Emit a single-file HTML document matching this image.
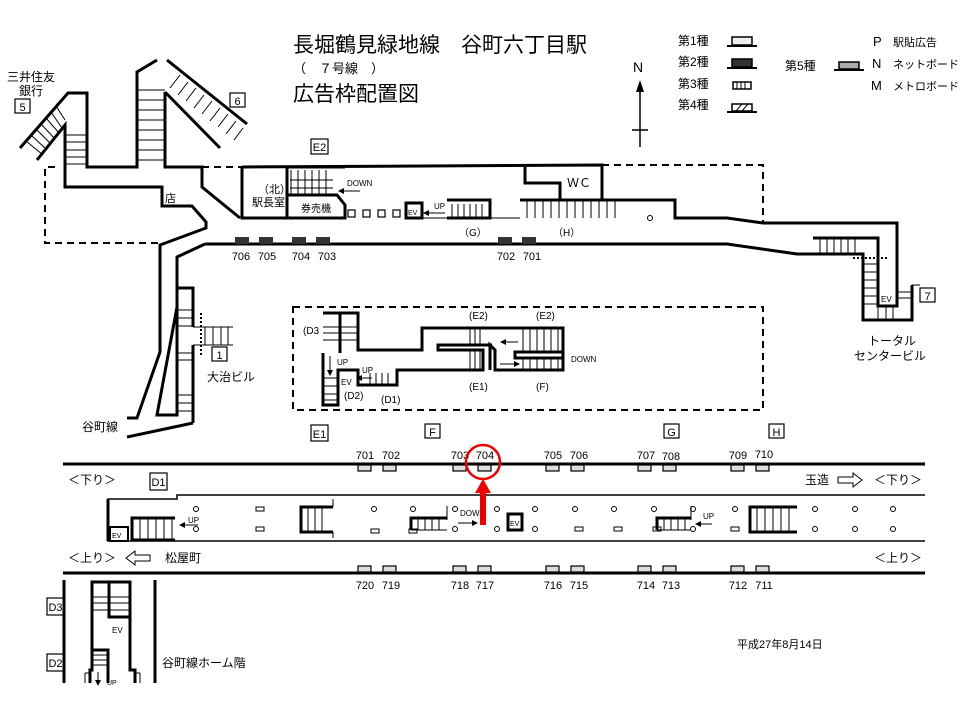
<!DOCTYPE html>
<html><head><meta charset="utf-8"><style>
body{margin:0;background:#fff}
svg{display:block}
text{font-family:"Liberation Sans","Noto Sans CJK JP",sans-serif;fill:#000}
</style></head><body>
<svg width="960" height="720" viewBox="0 0 960 720" xmlns="http://www.w3.org/2000/svg">
<rect width="960" height="720" fill="#fff"/>
<!-- Title -->
<text x="293" y="52" font-size="21">長堀鶴見緑地線　谷町六丁目駅</text>
<text x="293" y="73" font-size="13">（　７号線　）</text>
<text x="293" y="101" font-size="21">広告枠配置図</text>
<!-- north -->
<text x="633" y="72" font-size="14">N</text>
<line x1="640" y1="82" x2="640" y2="147" stroke="#000" stroke-width="1.5"/>
<path d="M636,92 L640,80 L644,92 Z" fill="#000"/>
<line x1="632" y1="130" x2="648" y2="130" stroke="#000" stroke-width="1.5"/>
<!-- legend -->
<g font-size="12">
<text x="678" y="45">第1種</text><text x="678" y="66">第2種</text><text x="678" y="88">第3種</text><text x="678" y="109">第4種</text>
<text x="785" y="70">第5種</text>
<text x="873" y="46" font-size="13">P</text><text x="893" y="46" font-size="11">駅貼広告</text>
<text x="872" y="68" font-size="13">N</text><text x="893" y="68" font-size="11">ネットボード</text>
<text x="871" y="90" font-size="13">M</text><text x="893" y="90" font-size="11">メトロボード</text>
</g>
<g stroke="#000">
<rect x="732" y="37" width="20" height="8" fill="#eee" stroke-width="1.5"/><line x1="727" y1="46" x2="757" y2="46" stroke-width="2"/>
<rect x="732" y="59" width="20" height="8" fill="#333" stroke-width="1.5"/><line x1="727" y1="68" x2="757" y2="68" stroke-width="2"/>
<rect x="733" y="82" width="18" height="7" fill="#fff" stroke-width="1.5"/>
<line x1="737" y1="82" x2="737" y2="89"/><line x1="741" y1="82" x2="741" y2="89"/><line x1="745" y1="82" x2="745" y2="89"/>
<rect x="732" y="104" width="20" height="7" fill="#fff" stroke-width="1.5"/>
<line x1="736" y1="111" x2="742" y2="104"/><line x1="742" y1="111" x2="748" y2="104"/>
<line x1="727" y1="112" x2="757" y2="112" stroke-width="2"/>
<rect x="839" y="62" width="20" height="7" fill="#aaa" stroke-width="1.5"/><line x1="834" y1="70" x2="864" y2="70" stroke-width="2"/>
</g>
<!-- top-left labels -->
<g font-size="12">
<text x="7" y="81">三井住友</text><text x="19" y="95">銀行</text>
</g>
<g fill="#fff" stroke="#000" stroke-width="1.2">
<rect x="15" y="99" width="15" height="14"/><rect x="230" y="93" width="15" height="14"/>
<rect x="311" y="139" width="17" height="15"/><rect x="920" y="288" width="15" height="14"/>
<rect x="212" y="347" width="15" height="14"/><rect x="311" y="425" width="17" height="16"/>
<rect x="425" y="424" width="15" height="14"/><rect x="664" y="424" width="15" height="14"/>
<rect x="769" y="424" width="15" height="14"/><rect x="150" y="473" width="17" height="17"/>
<rect x="47" y="598" width="17" height="17"/><rect x="47" y="654" width="17" height="17"/>
</g>
<g font-size="11" text-anchor="middle">
<text x="22.5" y="111">5</text><text x="237.5" y="105">6</text><text x="319.5" y="151">E2</text>
<text x="927.5" y="300">7</text><text x="219.5" y="359">1</text><text x="319.5" y="438">E1</text>
<text x="432.5" y="436">F</text><text x="671.5" y="436">G</text><text x="776.5" y="436">H</text>
<text x="158.5" y="486">D1</text><text x="55.5" y="611">D3</text><text x="55.5" y="667">D2</text>
</g>
<!-- dashed boxes -->
<g fill="none" stroke="#000" stroke-width="2" stroke-dasharray="7,5">
<path d="M55,167 L45,167 L45,243 L160,243"/>
<path d="M202,167 L242,167"/>
<path d="M602,165 L763,165 L763,223"/>
<rect x="293" y="307" width="470" height="103"/>
</g>
<!-- left walkway structure -->
<g fill="none" stroke="#000" stroke-width="3" stroke-linejoin="miter">
<path d="M20,148 L68,93 L87,93 L87,167 L137,167 L137,72 L157,60"/>
<path d="M167,60 L247,124"/>
<path d="M37,160 L65,125 L65,187 L162,187 L162,206 L192,206 L206,222 L206,228 L160,245 L160,352 L137,418 L127,418"/>
<path d="M165,92 L165,167 L202,167 L202,187 L240,218"/>
<path d="M165,92 L220,148"/>
<path d="M205,244 L177,257 L177,288 L193,288 L193,327"/>
<path d="M193,345 L193,423"/>
<path d="M177,257 L177,415 L157,415 L177,307"/>
<path d="M193,423 L127,437"/>
</g>
<g stroke="#000" stroke-width="1">
<path d="M26,141 L43,155 M31,135 L47,150 M36,129 L51,144 M41,124 L55,139 M46,118 L59,133 M51,112 L62,128 M56,106 L65,120"/>
<path d="M65,135 L87,135 M65,142 L87,142 M65,150 L87,150 M65,157 L87,157 M65,164 L87,164"/>
<path d="M137,90 L165,90 M137,100 L165,100 M137,110 L165,110 M137,120 L165,120 M137,130 L165,130 M137,140 L165,140 M137,150 L165,150 M137,160 L165,160"/>
<path d="M180,75 L170,88 M188,82 L178,95 M196,88 L186,101 M204,95 L194,108 M212,101 L202,114 M220,108 L210,121 M228,114 L218,127 M236,121 L226,134 M243,128 L234,140"/>
<path d="M177,310 L193,310 M177,318 L193,318 M177,326 L193,326 M177,395 L193,395 M177,403 L193,403 M177,411 L193,411 M177,353 L193,353 M177,360 L193,360"/>
<path d="M193,327 L233,327 M193,345 L233,345 M205,327 L205,345 M213,327 L213,345 M221,327 L221,345 M228,327 L228,345"/>
</g>
<line x1="201" y1="313" x2="201" y2="355" stroke="#000" stroke-width="2" stroke-dasharray="2,2"/>
<text x="165" y="202" font-size="11">店</text>
<text x="207" y="381" font-size="12">大治ビル</text>
<text x="82" y="431" font-size="12">谷町線</text>
<!-- concourse -->
<g fill="none" stroke="#000" stroke-width="3">
<path d="M242,167 L602,165 L602,200 L560,200 L560,183 L525,183 L525,167"/>
<path d="M242,167 L242,218 L345,218 L345,205 L337,195 L287,195 L287,167"/>
<path d="M287,195 L287,218"/>
<path d="M287,167 L345,167"/>
<path d="M447,200 L490,200 L490,218 L447,218"/>
<path d="M520,200 L675,200 L675,218 L727,218 L763,223 L897,223 L897,306 L878,306 L878,238 L813,238"/>
<path d="M205,244 L727,244 L797,254 L863,254 L863,320 L912,320 L912,285"/>
<rect x="406" y="203" width="16" height="15"/>
</g>
<g stroke="#000" stroke-width="1">
<path d="M291,170 L291,195 M298,170 L298,195 M305,170 L305,195 M312,170 L312,195 M319,170 L319,195 M326,170 L326,195 M290,180 L333,180 M290,188 L333,188"/>
<path d="M452,204 L452,218 M458,204 L458,218 M464,204 L464,218 M470,204 L470,218 M476,204 L476,218 M482,204 L482,218"/>
<path d="M422,218 L520,218"/>
<path d="M527,200 L527,218 M535,200 L535,218 M543,200 L543,218 M551,200 L551,218 M559,200 L559,218 M567,200 L567,218 M575,200 L575,218 M583,200 L583,218 M591,200 L591,218 M599,200 L599,218 M607,200 L607,218 M615,200 L615,218"/>
<path d="M820,238 L820,254 M827,238 L827,254 M834,238 L834,254 M841,238 L841,254 M848,238 L848,254 M855,238 L855,254"/>
<path d="M863,264 L878,264 M863,272 L878,272 M863,280 L878,280 M863,288 L878,288 M863,296 L878,296 M863,304 L878,304"/>
<path d="M878,306 L878,320 M886,306 L886,320 M893,306 L893,320 M897,292 L912,292 M897,298 L912,298"/>
<path d="M912,285 L920,285"/>
</g>
<line x1="853" y1="258" x2="888" y2="258" stroke="#000" stroke-width="2" stroke-dasharray="2,2"/>
<g fill="#fff" stroke="#000" stroke-width="1.2">
<rect x="348" y="210" width="7" height="7"/><rect x="363" y="210" width="7" height="7"/><rect x="378" y="210" width="7" height="7"/><rect x="393" y="210" width="7" height="7"/>
</g>
<circle cx="650" cy="218" r="2.5" fill="none" stroke="#000"/>
<text x="258" y="193" font-size="11">（北）</text><text x="252" y="206" font-size="11">駅長室</text>
<text x="301" y="212" font-size="10">券売機</text>
<text x="347" y="186" font-size="8">DOWN</text>
<path d="M343,191 L360,191" stroke="#000"/><path d="M338,191 L344,188 L344,194Z"/>
<text x="434" y="209" font-size="8">UP</text>
<path d="M428,213 L445,213" stroke="#000"/><path d="M423,213 L429,210 L429,216Z"/>
<text x="408" y="215" font-size="7">EV</text>
<text x="567" y="187" font-size="12">ＷＣ</text>
<text x="459" y="236" font-size="10">（G）</text><text x="553" y="236" font-size="10">（H）</text>
<text x="881" y="302" font-size="8">EV</text>
<text x="868" y="345" font-size="12">トータル</text><text x="854" y="360" font-size="12">センタービル</text>
<g fill="#333">
<rect x="235" y="237" width="14" height="7"/><rect x="259" y="237" width="14" height="7"/><rect x="292" y="237" width="14" height="7"/><rect x="316" y="237" width="14" height="7"/>
<rect x="498" y="237" width="14" height="7"/><rect x="522" y="237" width="14" height="7"/>
</g>
<g font-size="11" text-anchor="middle">
<text x="241" y="260">706</text><text x="267" y="260">705</text><text x="301" y="260">704</text><text x="327" y="260">703</text>
<text x="506" y="260">702</text><text x="532" y="260">701</text>
</g>
<!-- middle box structure -->
<g fill="none" stroke="#000" stroke-width="3">
<path d="M323,313 L358,313 L358,350 L422,350 L422,328 L563,328 L563,370 L495,370 L495,350 L490,345 L490,370"/>
<path d="M323,353 L323,405 L338,405 L338,370 L358,370 L358,385 L397,385 L397,370 L483,370 L483,350 L438,350 L438,345 L492,345"/>
<path d="M515,358 L563,358 L563,352 L515,352 Z"/>
<path d="M340,313 L340,353"/>
</g>
<g stroke="#000" stroke-width="1">
<path d="M323,327 L358,327 M323,333 L358,333 M323,340 L358,340 M323,378 L338,378 M323,386 L338,386 M323,394 L338,394 M323,400 L338,400"/>
<path d="M370,373 L370,385 M376,373 L376,385 M382,373 L382,385 M388,373 L388,385"/>
<path d="M470,328 L470,345 M475,328 L475,345 M480,328 L480,345 M470,350 L470,370 M475,350 L475,370 M480,350 L480,370"/>
<path d="M523,328 L523,352 M530,328 L530,352 M537,328 L537,352 M544,328 L544,352 M551,328 L551,352 M558,328 L558,352 M523,358 L523,370 M530,358 L530,370 M537,358 L537,370 M544,358 L544,370 M551,358 L551,370 M558,358 L558,370"/>
<path d="M505,342 L518,342 M500,364 L516,364 M330,356 L330,370 M360,378 L372,378"/>
</g>
<path d="M327,370 L330,376 L333,370Z M500,342 L506,339 L506,345Z M520,364 L514,361 L514,367Z M356,378 L362,375 L362,381Z"/>
<text x="341" y="385" font-size="8">EV</text>
<g font-size="8"><text x="337" y="365">UP</text><text x="362" y="373">UP</text><text x="571" y="362">DOWN</text></g>
<g font-size="10">
<text x="303" y="334">(D3</text><text x="344" y="399">(D2)</text><text x="381" y="403">(D1)</text>
<text x="469" y="319">(E2)</text><text x="536" y="319">(E2)</text><text x="469" y="390">(E1)</text><text x="536" y="390">(F)</text>
</g>
<!-- platform -->
<line x1="63" y1="464" x2="925" y2="464" stroke="#000" stroke-width="3"/>
<line x1="63" y1="573" x2="925" y2="573" stroke="#000" stroke-width="3"/>
<path d="M925,495 L177,495 L177,499 L108,499 L108,541 L925,541" fill="none" stroke="#000" stroke-width="1.5"/>
<path d="M108,499 L108,541" stroke="#000" stroke-width="3"/>
<rect x="110" y="527" width="18" height="14" fill="#fff" stroke="#000" stroke-width="2"/>
<text x="112" y="538" font-size="7">EV</text>
<g fill="none" stroke="#000" stroke-width="3">
<path d="M175,518 L132,518 L132,540 L175,540"/>
<path d="M333,507 L301,507 L301,532 L333,532"/>
<path d="M447,518 L411,518 L411,530"/>
<path d="M691,518 L657,518 L657,530"/>
<path d="M797,507 L750,507 L750,532 L797,532"/>
<rect x="508" y="514" width="14" height="16"/>
</g>
<g stroke="#000" stroke-width="1">
<path d="M140,518 L140,540 M148,518 L148,540 M156,518 L156,540 M164,518 L164,540 M172,518 L172,540"/>
<path d="M308,507 L308,532 M315,507 L315,532 M322,507 L322,532"/>
<path d="M418,518 L418,530 M425,518 L425,530 M432,518 L432,530 M439,518 L439,530 M411,530 L447,530 M447,506 L447,520"/>
<path d="M664,518 L664,530 M671,518 L671,530 M678,518 L678,530 M685,518 L685,530 M657,530 L691,530 M691,506 L691,520"/>
<path d="M757,507 L757,532 M765,507 L765,532 M773,507 L773,532 M781,507 L781,532 M789,507 L789,532 M333,499 L333,507 M333,532 L333,538"/>
</g>
<text x="510" y="526" font-size="7">EV</text>
<g fill="none" stroke="#000" stroke-width="1">
<circle cx="196" cy="509" r="2.5"/><circle cx="196" cy="529" r="2.5"/>
<circle cx="374" cy="509" r="2.5"/><circle cx="413" cy="509" r="2.5"/><circle cx="455" cy="509" r="2.5"/><circle cx="455" cy="529" r="2.5"/>
<circle cx="497" cy="509" r="2.5"/><circle cx="497" cy="529" r="2.5"/>
<circle cx="535" cy="509" r="2.5"/><circle cx="535" cy="529" r="2.5"/><circle cx="575" cy="509" r="2.5"/><circle cx="614" cy="509" r="2.5"/>
<circle cx="654" cy="509" r="2.5"/><circle cx="693" cy="509" r="2.5"/><circle cx="693" cy="529" r="2.5"/><circle cx="735" cy="509" r="2.5"/>
<circle cx="815" cy="509" r="2.5"/><circle cx="815" cy="529" r="2.5"/><circle cx="855" cy="509" r="2.5"/><circle cx="855" cy="529" r="2.5"/>
<circle cx="893" cy="509" r="2.5"/><circle cx="893" cy="529" r="2.5"/>
<rect x="256" y="507" width="8" height="4"/><rect x="256" y="527" width="8" height="4"/><rect x="371" y="529" width="8" height="4"/>
<rect x="409" y="529" width="8" height="4"/><rect x="575" y="527" width="8" height="4"/><rect x="614" y="527" width="8" height="4"/>
<rect x="653" y="527" width="8" height="4"/><rect x="731" y="527" width="8" height="4"/>
</g>
<g font-size="8">
<text x="188" y="523">UP</text><text x="460" y="516">DOWN</text><text x="703" y="519">UP</text>
</g>
<path d="M184,525 L198,525 M458,523 L473,523 M700,524 L712,524" stroke="#000"/>
<path d="M179,525 L185,522 L185,528Z M478,523 L472,520 L472,526Z M695,524 L701,521 L701,527Z"/>
<!-- ad markers on platform -->
<g fill="#ddd" stroke="#000" stroke-width="1.2">
<rect x="358" y="465" width="13" height="6"/><rect x="383" y="465" width="13" height="6"/><rect x="453" y="465" width="13" height="6"/><rect x="478" y="465" width="13" height="6"/>
<rect x="546" y="465" width="13" height="6"/><rect x="571" y="465" width="13" height="6"/><rect x="638" y="465" width="13" height="6"/><rect x="663" y="465" width="13" height="6"/>
<rect x="731" y="465" width="13" height="6"/><rect x="756" y="465" width="13" height="6"/>
<rect x="358" y="566" width="13" height="6"/><rect x="383" y="566" width="13" height="6"/><rect x="453" y="566" width="13" height="6"/><rect x="478" y="566" width="13" height="6"/>
<rect x="546" y="566" width="13" height="6"/><rect x="571" y="566" width="13" height="6"/><rect x="638" y="566" width="13" height="6"/><rect x="663" y="566" width="13" height="6"/>
<rect x="731" y="566" width="13" height="6"/><rect x="756" y="566" width="13" height="6"/>
</g>
<g font-size="11" text-anchor="middle">
<text x="365" y="459">701</text><text x="391" y="459">702</text><text x="460" y="459">703</text><text x="485" y="459">704</text>
<text x="553" y="459">705</text><text x="579" y="459">706</text><text x="646" y="459">707</text><text x="671" y="460">708</text>
<text x="738" y="459">709</text><text x="764" y="458">710</text>
<text x="365" y="589">720</text><text x="391" y="589">719</text><text x="460" y="589">718</text><text x="485" y="589">717</text>
<text x="553" y="589">716</text><text x="579" y="589">715</text><text x="646" y="589">714</text><text x="671" y="589">713</text>
<text x="738" y="589">712</text><text x="764" y="589">711</text>
</g>
<circle cx="483" cy="462" r="17" fill="none" stroke="#e00" stroke-width="2.5"/>
<rect x="480" y="492" width="6" height="33" fill="#e00"/>
<path d="M475,493 L483,479 L491,493Z" fill="#e00"/>
<g font-size="12">
<text x="68" y="484">＜下り＞</text><text x="68" y="562">＜上り＞</text>
<text x="874" y="484">＜下り＞</text><text x="874" y="562">＜上り＞</text>
<text x="805" y="484">玉造</text><text x="165" y="562">松屋町</text>
</g>
<path d="M838,477 L853,477 L853,473 L862,480 L853,487 L853,483 L838,483Z M150,555 L135,555 L135,551 L126,558 L135,565 L135,561 L150,561Z" fill="#fff" stroke="#000"/>
<!-- bottom left -->
<g fill="none" stroke="#000" stroke-width="3">
<path d="M64,580 L64,683 M155,580 L155,683"/>
<path d="M90,683 L90,670 L92,670 L92,650 L108,650 L108,670 M108,683 L108,670"/>
<path d="M92,650 L92,582 L130,582 L130,638 L130,670 L135,670 L135,683"/>
<path d="M109,582 L109,617 L130,617"/>
</g>
<path d="M85,683 L85,673 M140,683 L140,673 M85,673 L90,673 M135,673 L140,673" stroke="#000"/>
<g stroke="#000" stroke-width="1">
<path d="M92,597 L130,597 M92,603 L130,603 M92,610 L130,610 M92,655 L108,655 M92,660 L108,660 M92,665 L108,665"/>
</g>
<text x="112" y="633" font-size="8">EV</text>
<path d="M98,672 L98,683" stroke="#000"/><path d="M95,680 L98,686 L101,680Z"/>
<text x="107" y="685" font-size="7">UP</text>
<text x="162" y="667" font-size="12">谷町線ホーム階</text>
<text x="737" y="648" font-size="11">平成27年8月14日</text>
</svg>
</body></html>
